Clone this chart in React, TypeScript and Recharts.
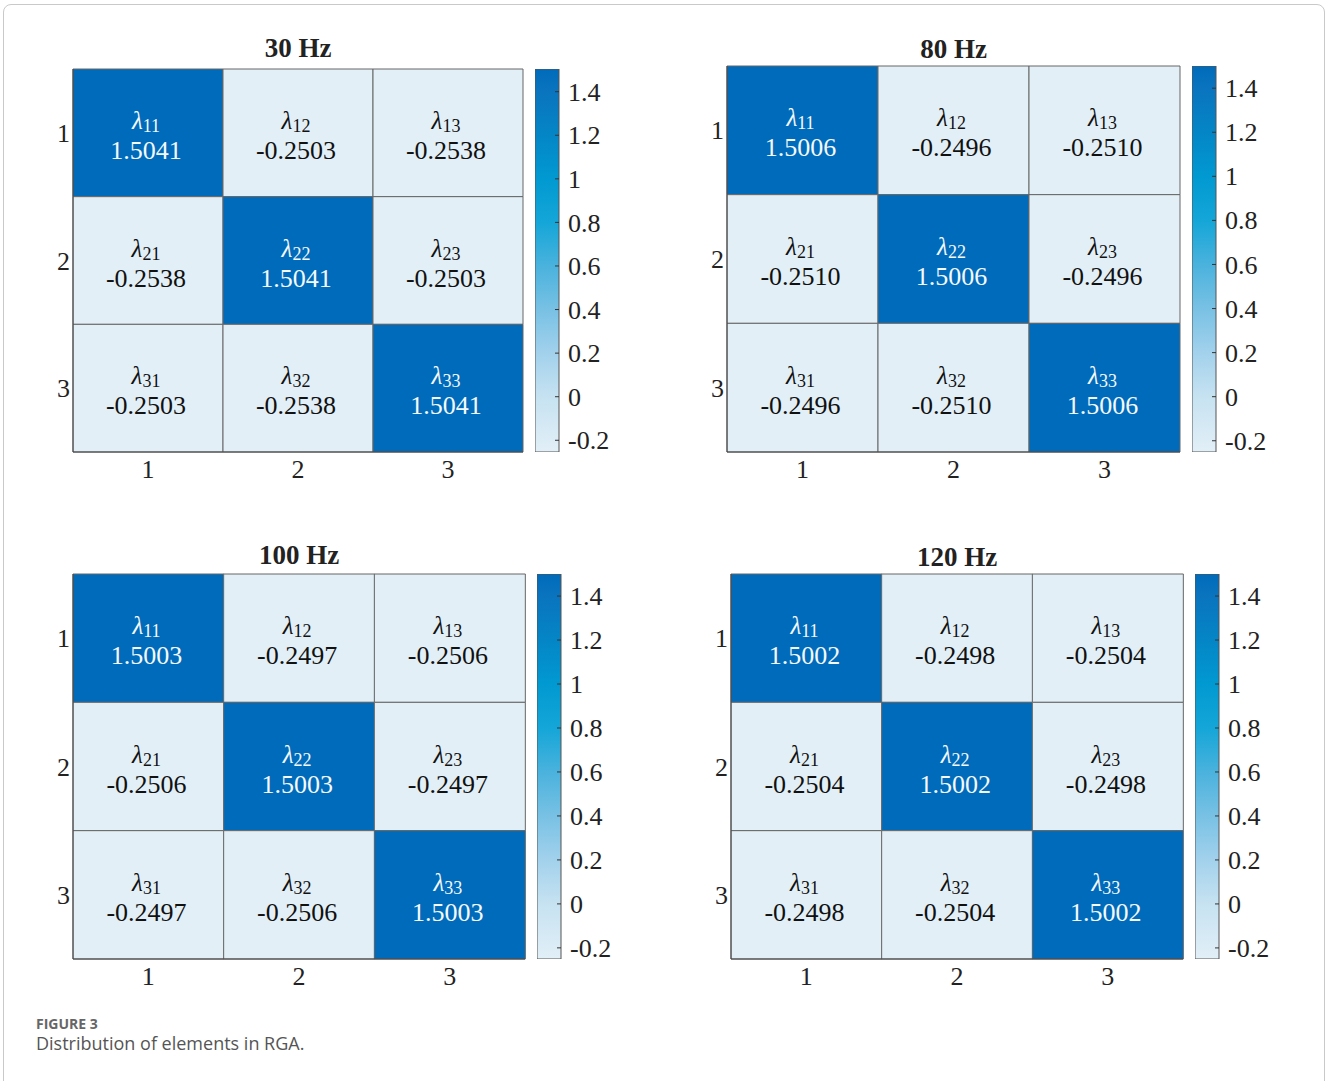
import { Bar, BarChart, Cell, LabelList, XAxis, YAxis } from 'recharts';

const SERIF = "'Liberation Serif', 'Times New Roman', serif";
const serifStyle = { fontFamily: SERIF };

const panelTitles = ['30 Hz', '80 Hz', '100 Hz', '120 Hz'];

// relative gain array at each frequency, row-major
const rga30 = [
  [1.5041, -0.2503, -0.2538],
  [-0.2538, 1.5041, -0.2503],
  [-0.2503, -0.2538, 1.5041],
];
const rga80 = [
  [1.5006, -0.2496, -0.251],
  [-0.251, 1.5006, -0.2496],
  [-0.2496, -0.251, 1.5006],
];
const rga100 = [
  [1.5003, -0.2497, -0.2506],
  [-0.2506, 1.5003, -0.2497],
  [-0.2497, -0.2506, 1.5003],
];
const rga120 = [
  [1.5002, -0.2498, -0.2504],
  [-0.2504, 1.5002, -0.2498],
  [-0.2498, -0.2504, 1.5002],
];

const rowLabels = ['1', '2', '3'];
const colLabels = ['1', '2', '3'];
const colorbarTicks = [-0.2, 0, 0.2, 0.4, 0.6, 0.8, 1, 1.2, 1.4];

// blue colormap, position along [min, max] -> colour
const cmapStops: [number, string][] = [
  [0, '#e2eff7'],
  [0.144, '#c6e2f1'],
  [0.258, '#a2d1ec'],
  [0.372, '#78c1e4'],
  [0.486, '#4ab2dd'],
  [0.6, '#14a6d8'],
  [0.714, '#0199d1'],
  [0.827, '#0486c6'],
  [0.941, '#0a74bf'],
  [1, '#006bba'],
];

const hex = (c: string) => [1, 3, 5].map((i) => parseInt(c.slice(i, i + 2), 16));

function cmap(t: number) {
  const v = Math.max(0, Math.min(1, t));
  for (let i = 1; i < cmapStops.length; i++) {
    const [t1, c1] = cmapStops[i];
    const [t0, c0] = cmapStops[i - 1];
    if (v <= t1) {
      const f = (v - t0) / (t1 - t0);
      const a = hex(c0);
      const b = hex(c1);
      const m = a.map((x, k) => Math.round(x + (b[k] - x) * f));
      return `rgb(${m[0]},${m[1]},${m[2]})`;
    }
  }
  return cmapStops[cmapStops.length - 1][1];
}

const fmtTick = (v: number) => String(Number(v.toFixed(1)));

interface PanelProps {
  id: number;
  title: string;
  values: number[][];
  gx: number;
  gy: number;
  gw: number;
  gh: number;
  cbx: number;
  titleY: number;
}

// colorbar tick: short mark inside the bar, label to the right
function CbTick(props: any) {
  const { x, y, payload } = props;
  return (
    <g>
      <line x1={x - 13} x2={x - 9} y1={y} y2={y} stroke="#333" strokeWidth={1} />
      <text x={x} y={y} dy="0.35em" fontSize={26} style={serifStyle} fill="#222">
        {fmtTick(payload.value)}
      </text>
    </g>
  );
}

function XTick(props: any) {
  const { x, y, payload } = props;
  return (
    <text x={x} y={y} dy="0.71em" textAnchor="middle" fontSize={26} style={serifStyle} fill="#222">
      {payload.value}
    </text>
  );
}

function YTick(props: any) {
  const { x, y, payload } = props;
  return (
    <text x={x} y={y} dy="0.35em" textAnchor="end" fontSize={26} style={serifStyle} fill="#222">
      {rowLabels[Math.floor(payload.value)]}
    </text>
  );
}

function Heatmap({ id, title, values, gx, gy, gw, gh, cbx, titleY }: PanelProps) {
  const flat = values.flat();
  const min = Math.min(...flat);
  const max = Math.max(...flat);
  const norm = (v: number) => (v - min) / (max - min);

  // each column is one stacked bar, each row one unit tall segment
  const cols = colLabels.map((c) => ({ col: c, r1: 1, r2: 1, r3: 1 }));
  const rowKeys = ['r1', 'r2', 'r3'];

  const cellLabel = (row: number) => (p: any) => {
    const { x, y, width, height, index } = p;
    const v = values[row][index];
    const dark = norm(v) > 0.6;
    const color = dark ? '#f5f9fc' : '#111';
    const cx = x + width / 2 - 2;
    const cy = y + Math.abs(height) / 2 + (height < 0 ? height : 0);
    return (
      <g>
        <text x={cx} y={cy - 4} textAnchor="middle" style={serifStyle} fill={color}>
          <tspan fontStyle="italic" fontSize={25}>λ</tspan>
          <tspan fontSize={18} dy={3}>{`${rowLabels[row]}${colLabels[index]}`}</tspan>
        </text>
        <text x={cx} y={cy + 26} textAnchor="middle" style={serifStyle} fontSize={26} fill={color}>
          {v.toFixed(4)}
        </text>
      </g>
    );
  };

  return (
    <>
      <svg style={{ position: 'absolute', left: gx, top: titleY - 30, overflow: 'visible' }} width={gw} height={40}>
        <text x={gw / 2} y={30} textAnchor="middle" style={serifStyle} fontWeight="bold" fontSize={27} fill="#222">
          {title}
        </text>
      </svg>
      <div style={{ position: 'absolute', left: gx - 50, top: gy - 10 }}>
        <BarChart
          width={gw + 52}
          height={gh + 60}
          data={cols}
          margin={{ top: 10, right: 2, bottom: 0, left: 0 }}
          barCategoryGap={0}
          barGap={0}
        >
          <XAxis
            dataKey="col"
            height={50}
            tickLine={false}
            tickSize={0}
            tickMargin={8}
            axisLine={{ stroke: '#444' }}
            tick={<XTick />}
          />
          <YAxis
            type="number"
            domain={[0, 3]}
            reversed
            ticks={[0.5, 1.5, 2.5]}
            width={50}
            tickLine={false}
            tickSize={0}
            tickMargin={3}
            axisLine={{ stroke: '#444' }}
            tick={<YTick />}
          />
          {rowKeys.map((k, r) => (
            <Bar key={k} dataKey={k} stackId="m" isAnimationActive={false} stroke="#666" strokeWidth={1}>
              {values[r].map((v, c) => (
                <Cell key={c} fill={cmap(norm(v))} />
              ))}
              <LabelList dataKey={k} content={cellLabel(r)} />
            </Bar>
          ))}
        </BarChart>
      </div>
      <div style={{ position: 'absolute', left: cbx, top: gy - 10 }}>
        <BarChart
          width={24 + 80}
          height={gh + 20}
          data={[{ k: 'cb', span: [min, max] }]}
          margin={{ top: 10, right: 0, bottom: 10, left: 0 }}
          barCategoryGap={0}
        >
          <defs>
            <linearGradient id={`cmap-${id}`} x1="0" y1="1" x2="0" y2="0">
              {cmapStops.map(([t, c]) => (
                <stop key={t} offset={t} stopColor={c} />
              ))}
            </linearGradient>
          </defs>
          <XAxis dataKey="k" hide />
          <YAxis
            orientation="right"
            type="number"
            domain={[min, max]}
            allowDataOverflow
            ticks={colorbarTicks}
            width={80}
            axisLine={false}
            tickLine={false}
            tickSize={0}
            tickMargin={9}
            tick={<CbTick />}
          />
          <Bar dataKey="span" fill={`url(#cmap-${id})`} stroke="#555" strokeWidth={1} isAnimationActive={false} />
        </BarChart>
      </div>
    </>
  );
}

export default function App() {
  return (
    <div style={{ position: 'absolute', left: 0, top: 0, width: 1329, height: 1081, background: '#fff', overflow: 'hidden' }}>
      <div
        style={{
          position: 'absolute',
          left: 3,
          top: 4,
          width: 1322,
          height: 1120,
          border: '1px solid #c9c9c9',
          borderRadius: 8,
          boxSizing: 'border-box',
        }}
      />
      <Heatmap id={0} title={panelTitles[0]} values={rga30} gx={73} gy={69} gw={450} gh={383} cbx={535} titleY={57} />
      <Heatmap id={1} title={panelTitles[1]} values={rga80} gx={727} gy={66} gw={453} gh={386} cbx={1192} titleY={58} />
      <Heatmap id={2} title={panelTitles[2]} values={rga100} gx={73} gy={574} gw={452} gh={385} cbx={537} titleY={564} />
      <Heatmap id={3} title={panelTitles[3]} values={rga120} gx={731} gy={574} gw={452} gh={385} cbx={1195} titleY={566} />
      <div
        style={{
          position: 'absolute',
          left: 36,
          top: 1017,
          lineHeight: '14px',
          fontFamily: "'Open Sans', sans-serif",
          fontSize: 14,
          fontWeight: 700,
          color: '#666',
        }}
      >
        FIGURE 3
      </div>
      <div
        style={{
          position: 'absolute',
          left: 36,
          top: 1034,
          lineHeight: '18px',
          fontFamily: "'Open Sans', sans-serif",
          fontSize: 18,
          color: '#555',
        }}
      >
        Distribution of elements in RGA.
      </div>
    </div>
  );
}
